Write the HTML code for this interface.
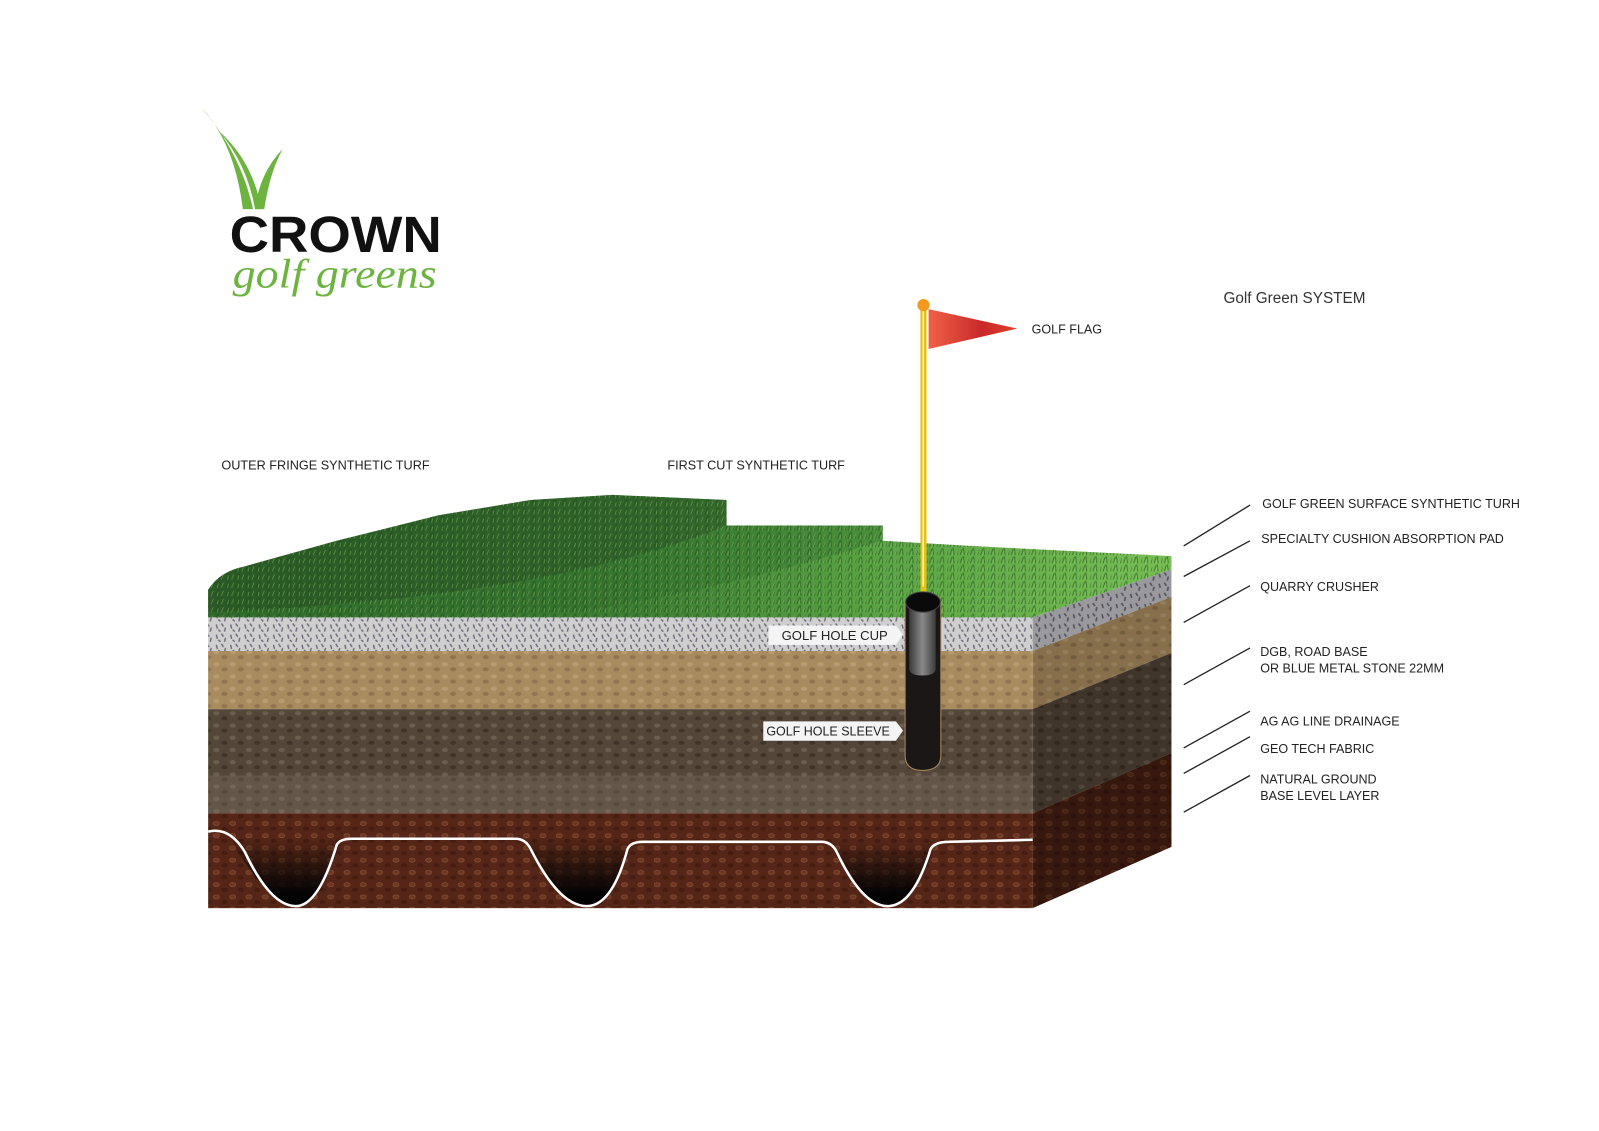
<!DOCTYPE html>
<html><head><meta charset="utf-8"><style>
html,body{margin:0;padding:0;background:#fff;}
svg{display:block;}
.lbl{font-family:"Liberation Sans",sans-serif;font-size:12.3px;fill:#222;}
.cond{font-family:"Liberation Sans",sans-serif;font-size:13px;fill:#222;}
</style></head><body>
<svg width="1599" height="1131" viewBox="0 0 1567 1108.4" preserveAspectRatio="none" xmlns="http://www.w3.org/2000/svg">
<defs>
<pattern id="grav" width="14" height="10" patternUnits="userSpaceOnUse">
<rect width="14" height="10" fill="#cfcfd0"/>
<path d="M2 2 l1 4 M7 1 l2 3 M11 5 l-1 4 M4 7 l2 2" stroke="#6e6878" stroke-width="1.4"/>
</pattern>
<pattern id="gravS" width="14" height="10" patternUnits="userSpaceOnUse">
<rect width="14" height="10" fill="#9a9a9e"/>
<path d="M2 2 l1 4 M7 1 l2 3 M11 5 l-1 4" stroke="#55505c" stroke-width="1.6"/>
</pattern>
<pattern id="tan" width="16" height="12" patternUnits="userSpaceOnUse">
<rect width="16" height="12" fill="#a98b60"/>
<ellipse cx="4" cy="3" rx="3" ry="2" fill="#b99d72"/><ellipse cx="12" cy="8" rx="3" ry="2" fill="#8f744e"/>
</pattern>
<pattern id="dark" width="16" height="12" patternUnits="userSpaceOnUse">
<rect width="16" height="12" fill="#54473a"/>
<ellipse cx="4" cy="3" rx="3" ry="2" fill="#6c5e4f"/><ellipse cx="12" cy="8" rx="3" ry="2" fill="#403429"/>
</pattern>
<pattern id="red" width="16" height="12" patternUnits="userSpaceOnUse">
<rect width="16" height="12" fill="#552617"/>
<ellipse cx="4" cy="3" rx="3" ry="2" fill="#6e3620" stroke="#8a5a40" stroke-width=".5"/><ellipse cx="12" cy="8" rx="3" ry="2" fill="#441c10"/>
</pattern>
<pattern id="blades" width="10" height="8" patternUnits="userSpaceOnUse">
<path d="M1 8 l2 -6 M5 8 l-1 -7 M8 8 l1 -5" stroke="#1f4a1c" stroke-width="1" opacity=".6"/>
<path d="M3 8 l1 -4 M7 8 l2 -5" stroke="#9ad070" stroke-width=".8" opacity=".5"/>
</pattern>
<linearGradient id="grass" x1="0" x2="1" y1="0" y2="0">
<stop offset="0" stop-color="#2f6a2a"/><stop offset=".45" stop-color="#3d7d33"/><stop offset=".7" stop-color="#5aa544"/><stop offset="1" stop-color="#78be55"/>
</linearGradient>
<linearGradient id="flag" x1="0" x2="1"><stop offset="0" stop-color="#f06045"/><stop offset=".6" stop-color="#c8292a"/><stop offset="1" stop-color="#e0402a"/></linearGradient>
<linearGradient id="cup" x1="0" x2="1"><stop offset="0" stop-color="#3a3a3a"/><stop offset=".5" stop-color="#8a8a8a"/><stop offset="1" stop-color="#3a3a3a"/></linearGradient>
<linearGradient id="hole" x1="0" y1="0" x2="0" y2="1"><stop offset="0" stop-color="#000" stop-opacity="0"/><stop offset=".8" stop-color="#050505"/><stop offset="1" stop-color="#000"/></linearGradient>
</defs>

<!-- logo -->
<path d="M197 105 Q230 140 238 205 L248 205 Q236 150 197 105Z" fill="#6cb33f"/>
<path d="M214 128 Q242 160 250 205 L256 205 Q248 158 214 128Z" fill="#6cb33f"/>
<path d="M277 146 Q254 170 250 205 L259 205 Q264 170 277 146Z" fill="#6cb33f"/>
<text x="225" y="247" font-family="Liberation Sans,sans-serif" font-weight="bold" font-size="50" fill="#111" textLength="208" lengthAdjust="spacingAndGlyphs">CROWN</text>
<text x="228" y="282" font-family="Liberation Serif,serif" font-style="italic" font-size="40" fill="#6cb33f" textLength="200" lengthAdjust="spacingAndGlyphs">golf greens</text>

<text x="1199" y="297" font-family="Liberation Sans,sans-serif" font-size="15" fill="#333">Golf Green SYSTEM</text>

<!-- side face -->
<polygon points="1012,605 1148,558 1148,585 1012,638" fill="url(#gravS)"/>
<polygon points="1012,638 1148,585 1148,640 1012,695" fill="url(#tan)"/>
<polygon points="1012,638 1148,585 1148,640 1012,695" fill="#000" opacity=".2"/>
<polygon points="1012,695 1148,640 1148,738 1012,797" fill="url(#dark)"/>
<polygon points="1012,695 1148,640 1148,738 1012,797" fill="#000" opacity=".25"/>
<polygon points="1012,797 1148,738 1148,830 1012,890" fill="url(#red)"/>
<polygon points="1012,797 1148,738 1148,830 1012,890" fill="#000" opacity=".35"/>

<!-- front face -->
<rect x="204" y="605" width="808" height="33" fill="url(#grav)"/>
<rect x="204" y="638" width="808" height="57" fill="url(#tan)"/>
<rect x="204" y="695" width="808" height="102" fill="url(#dark)"/>
<rect x="204" y="760" width="808" height="37" fill="#8a7c6c" opacity=".3"/>
<rect x="204" y="797" width="808" height="93" fill="url(#red)"/>
<!-- trenches -->
<g fill="url(#hole)">
<path d="M225 822 Q265 888 290 888 Q312 888 335 822Z"/>
<path d="M512 822 Q548 888 575 888 Q600 888 620 825Z"/>
<path d="M812 825 Q845 888 870 888 Q895 888 918 825Z"/>
</g>
<path d="M204 815 Q225 810 240 835 Q265 888 290 888 Q312 888 330 828 Q333 822 345 822 L505 822 Q515 822 520 832 Q548 888 575 888 Q600 888 615 832 Q618 825 630 825 L805 825 Q815 825 820 835 Q845 888 870 888 Q895 888 912 832 Q916 825 930 825 L1012 823" fill="none" stroke="#fff" stroke-width="2.5"/>

<!-- grass -->
<path d="M204 605 L204 578 Q215 560 240 555 L330 530 L430 505 L520 490 L600 485 L712 490 L712 515 L865 515 L865 530 L950 535 L1148 545 L1148 558 L1012 605 Z" fill="url(#grass)"/>
<path d="M204 600 L204 578 Q215 560 240 555 L330 530 L430 505 L520 490 L600 485 L712 490 L712 515 Q650 540 560 560 Q420 590 204 600Z" fill="#264f22" opacity=".55"/>
<path d="M300 602 Q520 580 712 515 L865 515 L865 530 Q700 580 560 600Z" fill="#2f6a2a" opacity=".35"/>
<path d="M204 605 L204 578 Q215 560 240 555 L330 530 L430 505 L520 490 L600 485 L712 490 L712 515 L865 515 L865 530 L950 535 L1148 545 L1148 558 L1012 605 Z" fill="url(#blades)"/>

<!-- flag -->
<rect x="902" y="300" width="6" height="280" fill="#e2c21a"/>
<rect x="904" y="305" width="1.5" height="270" fill="#fff6b0"/>
<polygon points="910,303 997,322 910,342" fill="url(#flag)"/>
<circle cx="905" cy="299" r="6" fill="#f39a1e"/>
<text x="1011" y="327" class="lbl">GOLF FLAG</text>

<!-- cup -->
<path d="M887 590 L887 740 Q887 755 904 755 Q922 755 922 740 L922 590Z" fill="#1b1717" stroke="#a88860" stroke-width="1"/>
<path d="M891 592 L891 655 Q891 662 904 662 Q917 662 917 655 L917 592Z" fill="url(#cup)"/>
<ellipse cx="904.5" cy="590" rx="17" ry="10" fill="#0a0a0a" stroke="#444"/>

<polygon points="753,613 878,613 885,622 878,632 753,632" fill="#f4f4f4"/>
<text x="766" y="627" class="cond" textLength="104" lengthAdjust="spacingAndGlyphs">GOLF HOLE CUP</text>
<polygon points="748,707 878,707 885,716 878,726 748,726" fill="#f4f4f4"/>
<text x="751" y="721" class="cond" textLength="121" lengthAdjust="spacingAndGlyphs">GOLF HOLE SLEEVE</text>

<text x="217" y="460" class="cond" textLength="204" lengthAdjust="spacingAndGlyphs">OUTER FRINGE SYNTHETIC TURF</text>
<text x="654" y="460" class="cond" textLength="174" lengthAdjust="spacingAndGlyphs">FIRST CUT SYNTHETIC TURF</text>

<!-- callouts -->
<g stroke="#222" stroke-width="1.3">
<line x1="1160" y1="535" x2="1225" y2="495"/>
<line x1="1160" y1="565" x2="1225" y2="530"/>
<line x1="1160" y1="610" x2="1225" y2="574"/>
<line x1="1160" y1="671" x2="1225" y2="635"/>
<line x1="1160" y1="733" x2="1225" y2="697"/>
<line x1="1160" y1="758" x2="1225" y2="722"/>
<line x1="1160" y1="796" x2="1225" y2="760"/>
</g>
<g>
<text x="1237" y="498" class="lbl">GOLF GREEN SURFACE SYNTHETIC TURH</text>
<text x="1236" y="532" class="lbl">SPECIALTY CUSHION ABSORPTION PAD</text>
<text x="1235" y="579" class="lbl">QUARRY CRUSHER</text>
<text x="1235" y="643" class="lbl">DGB, ROAD BASE</text>
<text x="1235" y="659" class="lbl">OR BLUE METAL STONE 22MM</text>
<text x="1235" y="711" class="lbl">AG AG LINE DRAINAGE</text>
<text x="1235" y="738" class="lbl">GEO TECH FABRIC</text>
<text x="1235" y="768" class="lbl">NATURAL GROUND</text>
<text x="1235" y="784" class="lbl">BASE LEVEL LAYER</text>
</g>
</svg>
</body></html>
